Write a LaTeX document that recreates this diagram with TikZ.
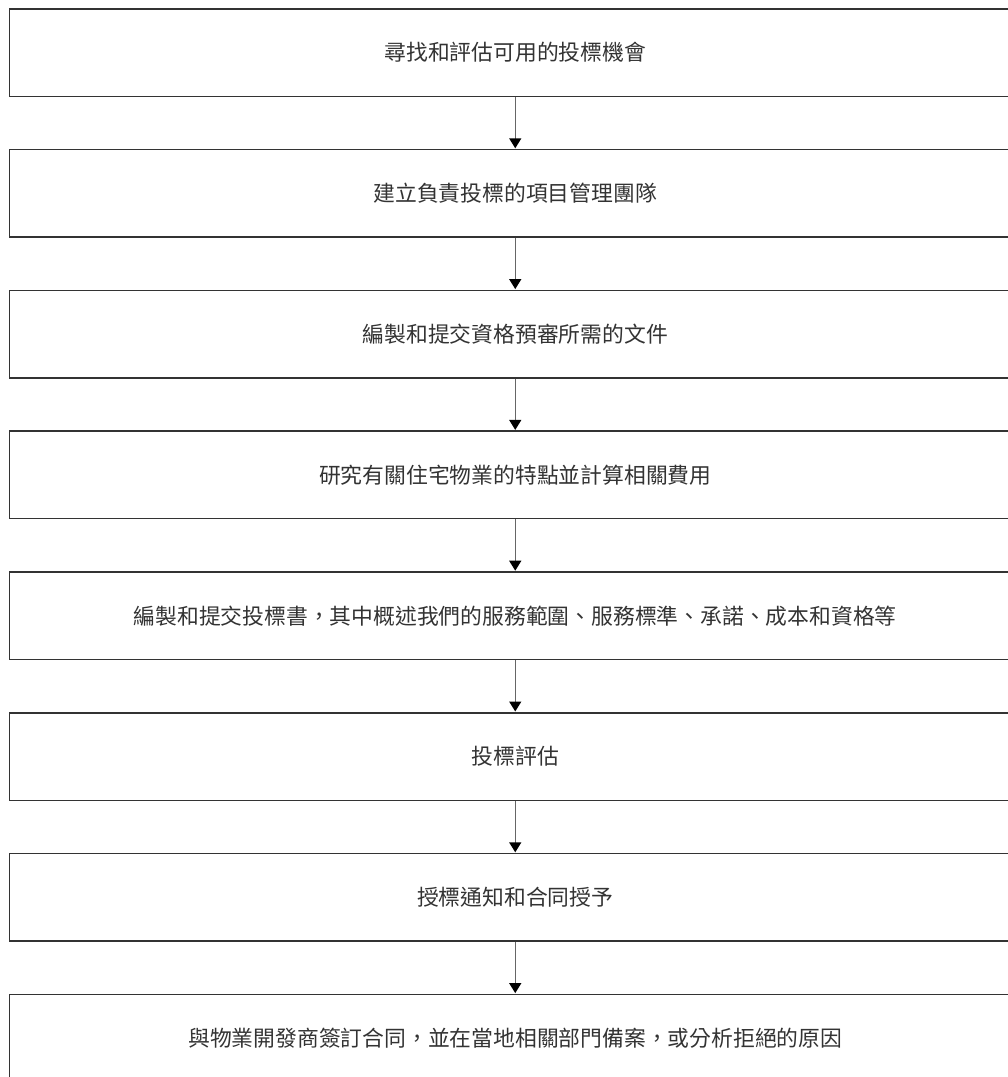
\documentclass[tikz,border=0pt]{standalone}
\usepackage{fontspec}
\newfontfamily\cjk{Noto Sans CJK TC}
\usetikzlibrary{arrows.meta}
\definecolor{boxline}{HTML}{333333}
\definecolor{arrline}{HTML}{666666}
\tikzset{
  stepbox/.style={draw=boxline, line width=1.5pt, minimum width=1012pt, minimum height=87.5pt, inner sep=0pt, font=\cjk\fontsize{21.8}{26}\selectfont, text=black!80, anchor=north west},
  flowarrow/.style={draw=arrline, line width=1.4pt, -{Triangle[width=12pt,length=10pt,color=black]}, shorten >=0.5pt}
}
\begin{document}
\begin{tikzpicture}[x=1pt,y=-1pt]
\useasboundingbox (0,0) rectangle (1008,1077);
\clip (0,0) rectangle (1008,1077);
\node[stepbox] (b1) at (8.5,8) {尋找和評估可用的投標機會};
\node[stepbox] (b2) at (8.5,148.8) {建立負責投標的項目管理團隊};
\node[stepbox] (b3) at (8.5,289.6) {編製和提交資格預審所需的文件};
\node[stepbox] (b4) at (8.5,430.4) {研究有關住宅物業的特點並計算相關費用};
\node[stepbox] (b5) at (8.5,571.2) {編製和提交投標書，其中概述我們的服務範圍、服務標準、承諾、成本和資格等};
\node[stepbox] (b6) at (8.5,712) {投標評估};
\node[stepbox] (b7) at (8.5,852.8) {授標通知和合同授予};
\node[stepbox] (b8) at (8.5,993.6) {與物業開發商簽訂合同，並在當地相關部門備案，或分析拒絕的原因};
\foreach \a/\b in {b1/b2,b2/b3,b3/b4,b4/b5,b5/b6,b6/b7,b7/b8}
  \draw[flowarrow] (\a.south) -- (\b.north);
\end{tikzpicture}
\end{document}
